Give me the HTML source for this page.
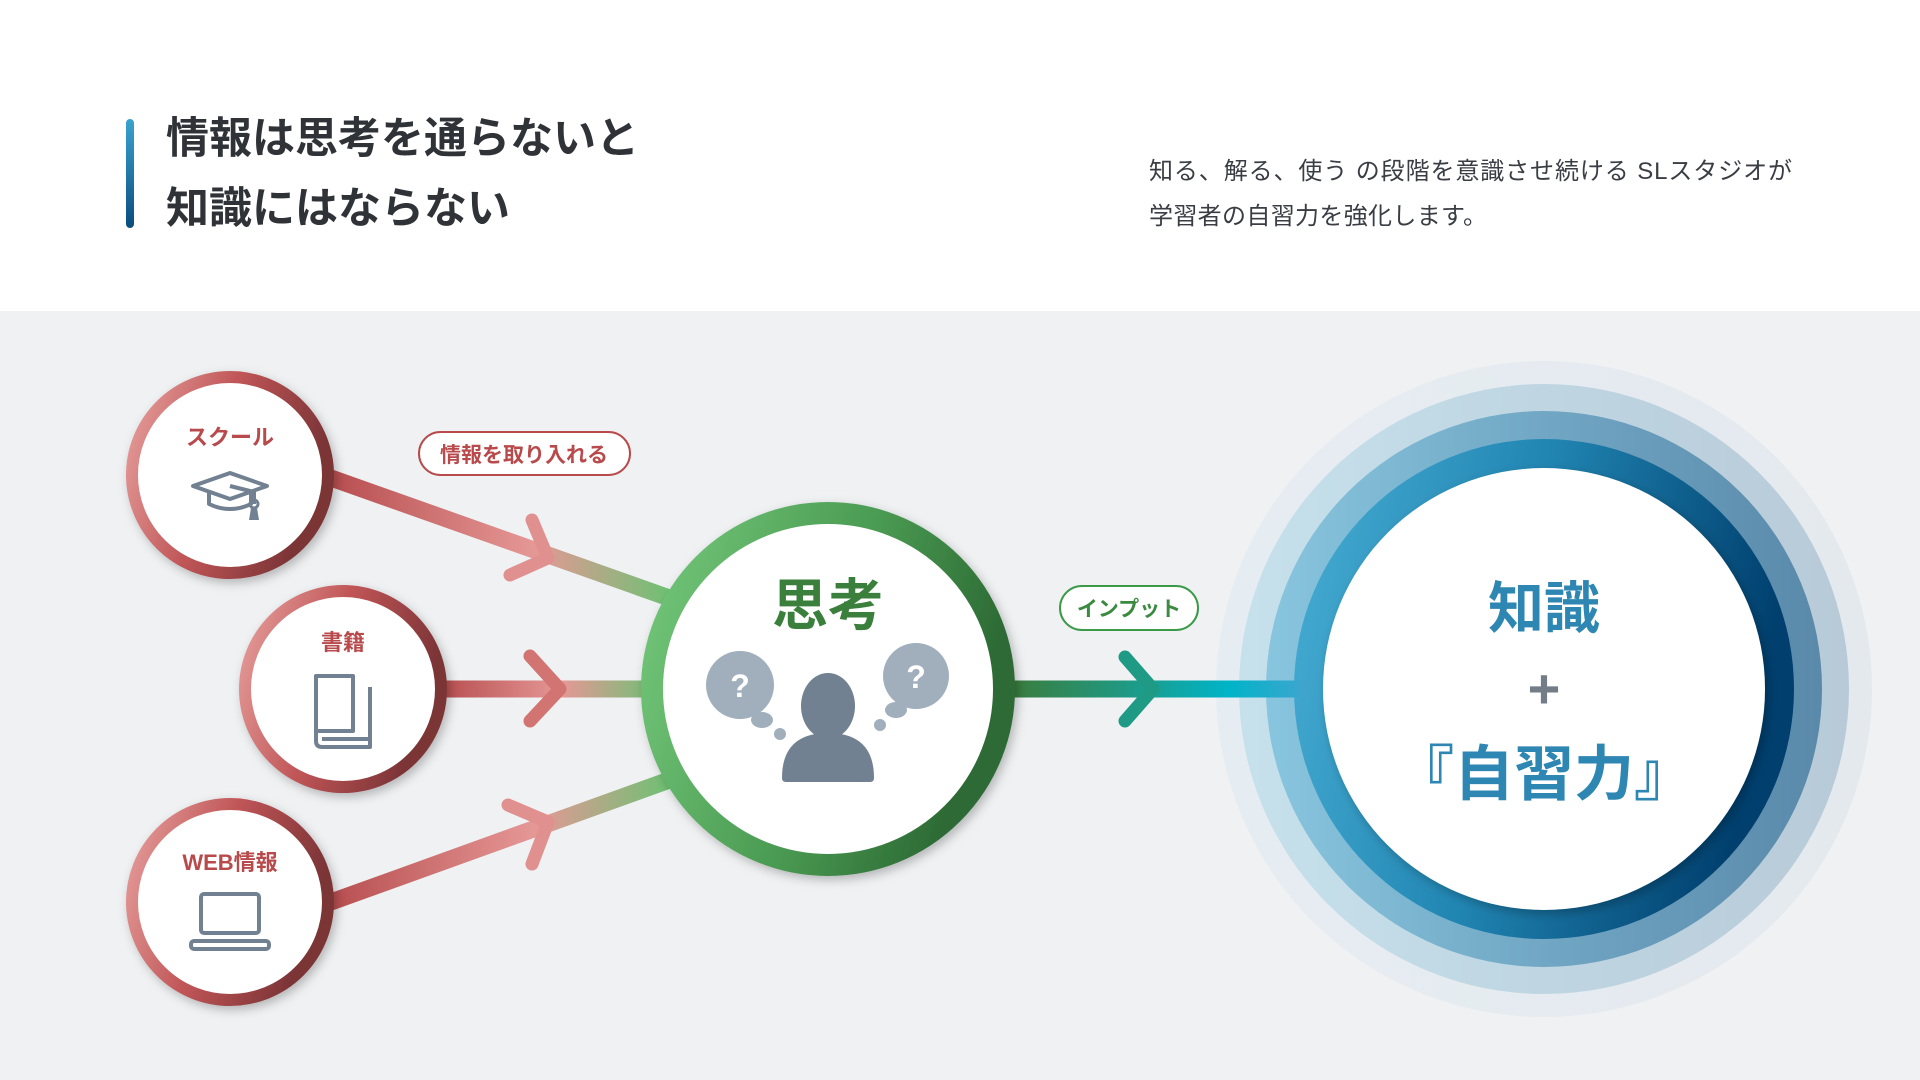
<!DOCTYPE html>
<html><head><meta charset="utf-8"><style>
html,body{margin:0;padding:0;width:1920px;height:1080px;overflow:hidden;background:#fff}
svg{display:block}
text{font-family:"Liberation Sans","Noto Sans CJK JP",sans-serif}
</style></head><body>
<svg width="1920" height="1080" viewBox="0 0 1920 1080" xmlns="http://www.w3.org/2000/svg">
<defs>
<linearGradient id="bar" x1="0" y1="0" x2="0" y2="1"><stop offset="0" stop-color="#3aa3cf"/><stop offset="1" stop-color="#0a4d7d"/></linearGradient>
<linearGradient id="redring" x1="0" y1="0" x2="1" y2="0.3"><stop offset="0" stop-color="#e6a09d"/><stop offset="0.5" stop-color="#c05557"/><stop offset="1" stop-color="#7b3436"/></linearGradient>
<linearGradient id="greenring" x1="0" y1="0" x2="1" y2="0.3"><stop offset="0" stop-color="#74c87a"/><stop offset="0.6" stop-color="#4a9a52"/><stop offset="1" stop-color="#2d6b35"/></linearGradient>
<linearGradient id="l1" gradientUnits="userSpaceOnUse" x1="331" y1="0" x2="671" y2="0"><stop offset="0" stop-color="#b84e50"/><stop offset="0.6" stop-color="#e59896"/><stop offset="1" stop-color="#6dc173"/></linearGradient>
<linearGradient id="l2" gradientUnits="userSpaceOnUse" x1="441" y1="0" x2="660" y2="0"><stop offset="0" stop-color="#b84e50"/><stop offset="0.55" stop-color="#e59896"/><stop offset="1" stop-color="#6dc173"/></linearGradient>
<linearGradient id="lout" gradientUnits="userSpaceOnUse" x1="1014" y1="0" x2="1300" y2="0"><stop offset="0" stop-color="#3a7d3e"/><stop offset="0.4" stop-color="#1f9a85"/><stop offset="0.75" stop-color="#00b4c8"/><stop offset="1" stop-color="#3aa6cf"/></linearGradient>
<linearGradient id="b0" x1="0" y1="0" x2="1" y2="0"><stop offset="0" stop-color="#e6edf2"/><stop offset="1" stop-color="#e4e9ee"/></linearGradient>
<linearGradient id="b1" x1="0" y1="0" x2="1" y2="0"><stop offset="0" stop-color="#c6e1ec"/><stop offset="1" stop-color="#b8cad8"/></linearGradient>
<linearGradient id="b2" x1="0" y1="0" x2="1" y2="0"><stop offset="0" stop-color="#88c5de"/><stop offset="1" stop-color="#5a89aa"/></linearGradient>
<linearGradient id="b3" x1="0" y1="0" x2="1" y2="0.2"><stop offset="0" stop-color="#48aed4"/><stop offset="0.5" stop-color="#2185b2"/><stop offset="1" stop-color="#003f6e"/></linearGradient>
<filter id="sh" x="-20%" y="-20%" width="140%" height="140%"><feDropShadow dx="3" dy="4" stdDeviation="5" flood-color="#000" flood-opacity="0.25"/></filter>
</defs>

<rect x="126" y="119" width="8" height="109" rx="4" fill="url(#bar)"/>
<text x="166" y="153" font-size="43" font-weight="bold" fill="#2f3338">情報は思考を通らないと</text>
<text x="166" y="223" font-size="43" font-weight="bold" fill="#2f3338">知識にはならない</text>
<text x="1149" y="179" font-size="24" fill="#3a3e44" textLength="643">知る、解る、使う の段階を意識させ続ける SLスタジオが</text>
<text x="1149" y="224" font-size="24" fill="#3a3e44" textLength="338">学習者の自習力を強化します。</text>

<rect x="0" y="311" width="1920" height="769" fill="#eff1f3"/>

<circle cx="1544" cy="689" r="328" fill="url(#b0)"/>
<circle cx="1544" cy="689" r="305" fill="url(#b1)"/>
<circle cx="1544" cy="689" r="278" fill="url(#b2)"/>
<circle cx="1544" cy="689" r="250" fill="url(#b3)"/>

<g stroke-linecap="round" fill="none">
<line x1="331" y1="478" x2="675" y2="600" stroke="url(#l1)" stroke-width="17"/>
<line x1="441" y1="689" x2="660" y2="689" stroke="url(#l2)" stroke-width="17"/>
<line x1="331" y1="902" x2="675" y2="778" stroke="url(#l1)" stroke-width="17"/>
<polyline points="532,520 548,558 510,575" stroke="#e0918f" stroke-width="13" stroke-linejoin="round"/>
<polyline points="530,656 560,689 530,721" stroke="#d27472" stroke-width="13" stroke-linejoin="round"/>
<polyline points="508,805 548,822 532,864" stroke="#e0918f" stroke-width="13" stroke-linejoin="round"/>
<line x1="1014" y1="689" x2="1300" y2="689" stroke="url(#lout)" stroke-width="17" stroke-linecap="butt"/>
<polyline points="1125,657 1153,689 1125,721" stroke="#1f9a85" stroke-width="13" stroke-linejoin="round"/>
</g>

<circle cx="1544" cy="689" r="221" fill="#fff" filter="url(#sh)"/>
<text x="1544" y="628" font-size="56" font-weight="bold" fill="#2e86b3" text-anchor="middle">知識</text>
<text x="1544" y="708" font-size="56" font-weight="bold" fill="#737d88" text-anchor="middle">+</text>
<text x="1544" y="795" font-size="60" font-weight="bold" fill="#2e86b3" text-anchor="middle">『自習力』</text>

<g filter="url(#sh)">
<circle cx="230" cy="475" r="98" fill="#fff" stroke="url(#redring)" stroke-width="12"/>
<circle cx="343" cy="689" r="98" fill="#fff" stroke="url(#redring)" stroke-width="12"/>
<circle cx="230" cy="902" r="98" fill="#fff" stroke="url(#redring)" stroke-width="12"/>
</g>
<text x="230" y="445" font-size="22" font-weight="bold" fill="#b84a4c" text-anchor="middle">スクール</text>
<text x="343" y="650" font-size="22" font-weight="bold" fill="#b84a4c" text-anchor="middle">書籍</text>
<text x="230" y="870" font-size="22" font-weight="bold" fill="#b84a4c" text-anchor="middle">WEB情報</text>
<g stroke="#718191" stroke-width="4" fill="none" stroke-linejoin="round">
<polygon points="193,486 230,473 267,486 230,499"/>
<path d="M209,492 v12 q21,10 42,0 v-12"/>
<path d="M230,486 L254,492 v12"/>
</g>
<circle cx="254" cy="504" r="4" fill="none" stroke="#718191" stroke-width="3"/>
<polygon points="251,508 257,508 259,520 249,520" fill="#718191"/>
<g stroke="#718191" stroke-width="4" fill="none" stroke-linejoin="round">
<path d="M316,676 h37 v55 h-37 z"/>
<path d="M316,731 v10 q0,6 6,6 h48 v-60"/>
<path d="M322,739 h48"/>
</g>
<g stroke="#718191" stroke-width="4" fill="none" stroke-linejoin="round">
<rect x="201" y="894" width="58" height="39" rx="3"/>
<rect x="191" y="941" width="78" height="8" rx="3"/>
</g>

<circle cx="828" cy="689" r="176" fill="#fff" stroke="url(#greenring)" stroke-width="22" filter="url(#sh)"/>
<text x="828" y="625" font-size="56" font-weight="bold" fill="#3b7f3d" text-anchor="middle">思考</text>
<g fill="#a1afbd">
<circle cx="740" cy="685" r="34"/><ellipse cx="762" cy="720" rx="11" ry="8"/><circle cx="780" cy="734" r="6"/>
<circle cx="916" cy="676" r="33"/><ellipse cx="896" cy="710" rx="11" ry="8"/><circle cx="880" cy="725" r="6"/>
</g>
<text x="740" y="697" font-size="32" font-weight="bold" fill="#fff" text-anchor="middle">?</text>
<text x="916" y="688" font-size="32" font-weight="bold" fill="#fff" text-anchor="middle">?</text>
<g fill="#718191">
<ellipse cx="828" cy="706" rx="27" ry="33"/>
<path d="M782,778 q0,-45 46,-45 q46,0 46,45 q0,4 -4,4 h-84 q-4,0 -4,-4z"/>
</g>

<rect x="419" y="432" width="211" height="43" rx="21.5" fill="#fff" stroke="#b84a4c" stroke-width="2"/>
<text x="524" y="462" font-size="21" font-weight="bold" fill="#b84a4c" text-anchor="middle">情報を取り入れる</text>
<rect x="1060" y="586" width="138" height="44" rx="22" fill="#fff" stroke="#3a9a48" stroke-width="2"/>
<text x="1129" y="616" font-size="21" font-weight="bold" fill="#3a8a40" text-anchor="middle">インプット</text>
</svg>
</body></html>
